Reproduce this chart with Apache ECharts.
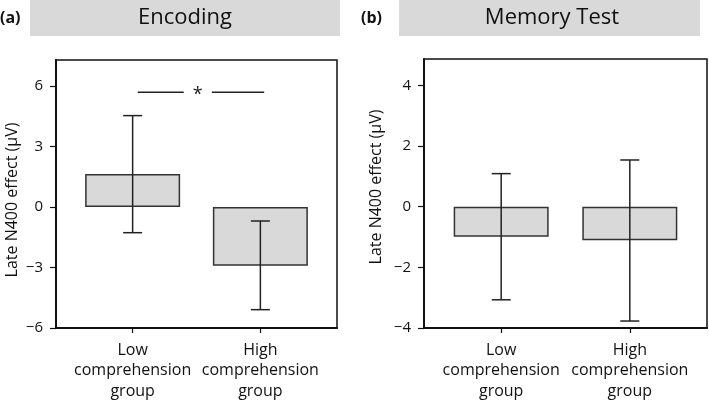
<!DOCTYPE html>
<html><head><meta charset="utf-8">
<script src="https://cdn.jsdelivr.net/npm/echarts@6/dist/echarts.min.js"></script>
<style>html,body{margin:0;padding:0;background:#fff}#c{width:709px;height:404px}</style>
</head><body><div id="c"></div>
<script>
// Data
const categories = ['Low\ncomprehension\ngroup', 'High\ncomprehension\ngroup'];
const encodingMeans = [1.64, -2.91];
const encodingErrLow = [-1.27, -5.09];
const encodingErrHigh = [4.54, -0.69];
const memoryMeans = [-0.99, -1.11];
const memoryErrLow = [-3.07, -3.77];
const memoryErrHigh = [1.09, 1.54];
const encodingTicks = [-6, -3, 0, 3, 6];
const memoryTicks = [-4, -2, 0, 2, 4];
const sigLevel = 5.7;
const sigSegments = [[0.04, 0.40], [0.62, 1.03]];
const sigStarX = 0.51;

const FONT = '"Open Sans", sans-serif';
const chart = echarts.init(document.getElementById('c'), null, {renderer: 'canvas'});
const fmtY = v => v < 0 ? '\u2212' + Math.abs(v) : String(v);

function xAxis(gi) {
  return {
    gridIndex: gi, type: 'value', min: -0.6, max: 1.6,
    splitLine: {show: false},
    axisLine: {show: true, onZero: false, lineStyle: {color: '#111', width: 2}},
    axisTick: {show: true, customValues: [0, 1], length: 5, lineStyle: {color: '#111', width: 1.2}},
    axisLabel: {customValues: [0, 1], formatter: v => categories[Math.round(v)], color: '#111',
      fontFamily: FONT, fontSize: 16, lineHeight: 20.5, margin: 12, align: 'center'}
  };
}
function yAxis(gi, min, max, ticks) {
  return {
    gridIndex: gi, type: 'value', min: min, max: max,
    splitLine: {show: false},
    axisLine: {show: true, onZero: false, lineStyle: {color: '#111', width: 2}},
    axisTick: {show: true, customValues: ticks, length: 6, lineStyle: {color: '#111', width: 1.2}},
    axisLabel: {customValues: ticks, formatter: fmtY, color: '#111', fontFamily: FONT, fontSize: 15, margin: 13}
  };
}
function barSeries(gi, means) {
  return {
    type: 'bar', xAxisIndex: gi, yAxisIndex: gi, barWidth: 95,
    data: means.map((m, i) => [i, m]),
    itemStyle: {color: '#d9d9d9', borderColor: '#333', borderWidth: 1.5},
    silent: true
  };
}
function errSeries(gi, lo, hi) {
  return {
    type: 'custom', xAxisIndex: gi, yAxisIndex: gi, silent: true, z: 5,
    data: lo.map((l, i) => [i, l, hi[i]]),
    renderItem: (params, api) => {
      const x = api.value(0);
      const p1 = api.coord([x, api.value(1)]);
      const p2 = api.coord([x, api.value(2)]);
      const cw = 9.5;
      const st = {stroke: '#222', lineWidth: 1.5};
      return {type: 'group', children: [
        {type: 'line', shape: {x1: p1[0], y1: p1[1], x2: p2[0], y2: p2[1]}, style: st},
        {type: 'line', shape: {x1: p1[0]-cw, y1: p1[1], x2: p1[0]+cw, y2: p1[1]}, style: st},
        {type: 'line', shape: {x1: p2[0]-cw, y1: p2[1], x2: p2[0]+cw, y2: p2[1]}, style: st}
      ]};
    }
  };
}

const sigSeries = {
  type: 'custom', xAxisIndex: 0, yAxisIndex: 0, silent: true, z: 5,
  data: [[sigStarX, sigLevel]],
  renderItem: (params, api) => {
    const children = sigSegments.map(s => {
      const a = api.coord([s[0], sigLevel]), b = api.coord([s[1], sigLevel]);
      return {type: 'line', shape: {x1: a[0], y1: a[1], x2: b[0], y2: b[1]}, style: {stroke: '#222', lineWidth: 1.3}};
    });
    const c = api.coord([sigStarX, sigLevel]);
    children.push({type: 'text', x: c[0], y: c[1] + 3, style: {text: '*', fill: '#222', font: '18px ' + FONT, align: 'center', verticalAlign: 'middle'}});
    return {type: 'group', children};
  }
};

const option = {
  animation: false,
  backgroundColor: '#fff',
  grid: [
    {left: 56, top: 60, width: 281, height: 268, show: true, borderColor: '#111', borderWidth: 1.5, backgroundColor: 'transparent'},
    {left: 424, top: 59, width: 283, height: 269, show: true, borderColor: '#111', borderWidth: 1.5, backgroundColor: 'transparent'}
  ],
  xAxis: [xAxis(0), xAxis(1)],
  yAxis: [yAxis(0, -6, 7.3, encodingTicks), yAxis(1, -4, 4.87, memoryTicks)],
  series: [
    barSeries(0, encodingMeans), errSeries(0, encodingErrLow, encodingErrHigh), sigSeries,
    barSeries(1, memoryMeans), errSeries(1, memoryErrLow, memoryErrHigh)
  ],
  graphic: [
    {type: 'rect', left: 30, top: 0, shape: {width: 310, height: 36}, style: {fill: '#d9d9d9'}},
    {type: 'rect', left: 399, top: 0, shape: {width: 301, height: 36}, style: {fill: '#d9d9d9'}},
    {type: 'text', x: 185, y: 18, style: {text: 'Encoding', fill: '#111', font: '22px ' + FONT, align: 'center', verticalAlign: 'middle'}},
    {type: 'text', x: 552, y: 18, style: {text: 'Memory Test', fill: '#111', font: '22px ' + FONT, align: 'center', verticalAlign: 'middle'}},
    {type: 'text', x: 0, y: 18, style: {text: '(a)', fill: '#111', font: 'bold 16px ' + FONT, align: 'left', verticalAlign: 'middle'}},
    {type: 'text', x: 361, y: 18, style: {text: '(b)', fill: '#111', font: 'bold 16px ' + FONT, align: 'left', verticalAlign: 'middle'}},
    {type: 'text', x: 12, y: 200, rotation: Math.PI/2, style: {text: 'Late N400 effect (\u03bcV)', fill: '#111', font: '16px ' + FONT, align: 'center', verticalAlign: 'middle'}},
    {type: 'text', x: 376, y: 187, rotation: Math.PI/2, style: {text: 'Late N400 effect (\u03bcV)', fill: '#111', font: '16px ' + FONT, align: 'center', verticalAlign: 'middle'}}
  ]
};
chart.setOption(option);
</script></body></html>
